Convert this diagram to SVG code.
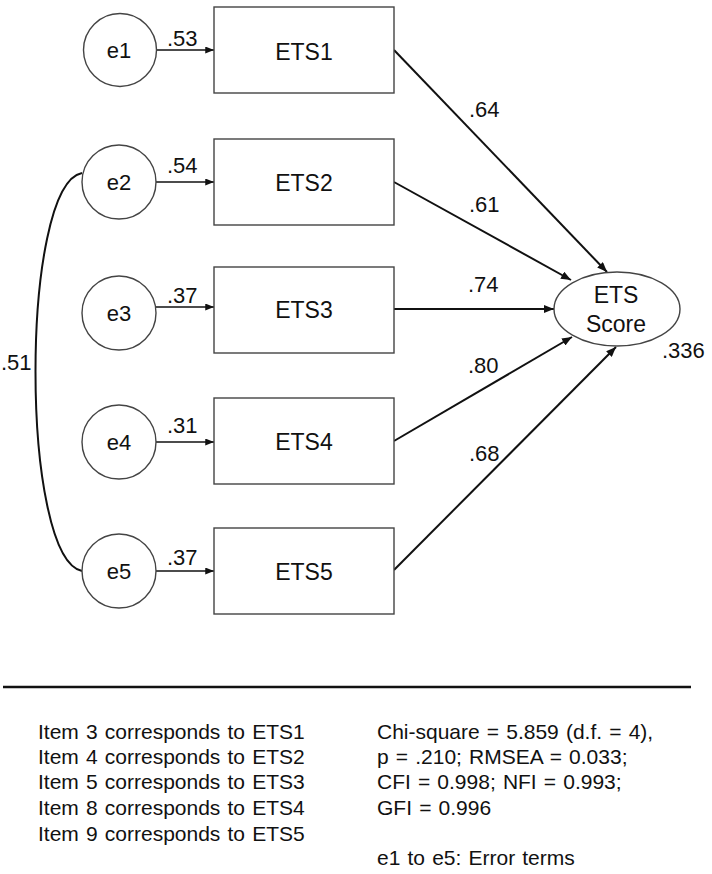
<svg xmlns="http://www.w3.org/2000/svg" width="712" height="874" viewBox="0 0 712 874">
<style>
text{font-family:"Liberation Sans",Arial,sans-serif;fill:#111;}
.node{fill:#fff;stroke:#444;stroke-width:1.4;}
.lbl{font-size:22px;}
.nt{font-size:23px;text-anchor:middle;}
.et{font-size:22px;text-anchor:middle;}
.small{stroke:#111;stroke-width:1.4;fill:none;}
.big{stroke:#111;stroke-width:2;fill:none;}
.note{font-size:21px;word-spacing:1.3px;}
</style>
<defs>
<marker id="ah" viewBox="0 0 10 8" refX="10" refY="4" markerWidth="10" markerHeight="8" markerUnits="userSpaceOnUse" orient="auto">
<path d="M0,0 L10,4 L0,8 Z" fill="#111"/>
</marker>
<marker id="ahs" viewBox="0 0 10 8" refX="10" refY="4" markerWidth="9" markerHeight="7" markerUnits="userSpaceOnUse" orient="auto">
<path d="M0,0 L10,4 L0,8 Z" fill="#111"/>
</marker>
</defs>
<g id="connectors">
<line class="small" x1="156" y1="50" x2="214" y2="50" marker-end="url(#ahs)"/>
<line class="small" x1="156" y1="182" x2="214" y2="182" marker-end="url(#ahs)"/>
<line class="small" x1="156" y1="307" x2="214" y2="307" marker-end="url(#ahs)"/>
<line class="small" x1="156" y1="442" x2="214" y2="442" marker-end="url(#ahs)"/>
<line class="small" x1="156" y1="571" x2="214" y2="571" marker-end="url(#ahs)"/>
<line class="big" x1="394" y1="50" x2="607" y2="272" marker-end="url(#ah)"/>
<line class="big" x1="394" y1="182" x2="571" y2="280" marker-end="url(#ah)"/>
<line class="big" x1="394" y1="309" x2="554" y2="309" marker-end="url(#ah)"/>
<line class="big" x1="394" y1="441" x2="572" y2="337" marker-end="url(#ah)"/>
<line class="big" x1="394" y1="570" x2="616" y2="347" marker-end="url(#ah)"/>
<path class="big" d="M82,173 C20,185 20,558 82,571"/>
<text class="lbl" x="167" y="46">.53</text>
<text class="lbl" x="167" y="173">.54</text>
<text class="lbl" x="167" y="303">.37</text>
<text class="lbl" x="167" y="433">.31</text>
<text class="lbl" x="167" y="565">.37</text>
<text class="lbl" x="469" y="117">.64</text>
<text class="lbl" x="469" y="212">.61</text>
<text class="lbl" x="468" y="292">.74</text>
<text class="lbl" x="468" y="373">.80</text>
<text class="lbl" x="469" y="461">.68</text>
<text class="lbl" x="1" y="370">.51</text>
</g>
<g id="e1"><circle class="node" cx="120" cy="50" r="36.5"/><text class="et" x="119" y="58">e1</text></g>
<g id="e2"><circle class="node" cx="119" cy="182" r="37"/><text class="et" x="119" y="190">e2</text></g>
<g id="e3"><circle class="node" cx="119" cy="313" r="37"/><text class="et" x="119" y="321">e3</text></g>
<g id="e4"><circle class="node" cx="119" cy="442" r="37"/><text class="et" x="119" y="450">e4</text></g>
<g id="e5"><circle class="node" cx="119" cy="571" r="37"/><text class="et" x="119" y="579">e5</text></g>
<g id="ETS1"><rect class="node" x="214" y="7" width="180" height="86"/><text class="nt" x="304" y="60">ETS1</text></g>
<g id="ETS2"><rect class="node" x="214" y="139" width="180" height="86"/><text class="nt" x="304" y="191">ETS2</text></g>
<g id="ETS3"><rect class="node" x="214" y="267" width="180" height="86"/><text class="nt" x="304" y="318">ETS3</text></g>
<g id="ETS4"><rect class="node" x="214" y="398" width="180" height="86"/><text class="nt" x="304" y="450">ETS4</text></g>
<g id="ETS5"><rect class="node" x="214" y="528" width="180" height="86"/><text class="nt" x="304" y="580">ETS5</text></g>
<g id="ETSScore"><ellipse class="node" cx="617" cy="309" rx="63" ry="37"/><text class="nt" x="616" y="303">ETS</text><text class="nt" x="616" y="332">Score</text><text class="lbl" x="662" y="358">.336</text></g>
<g id="notes">
<line x1="3" y1="687" x2="691" y2="687" stroke="#111" stroke-width="2.5"/>
<text class="note" x="38" y="739">Item 3 corresponds to ETS1</text>
<text class="note" x="38" y="764">Item 4 corresponds to ETS2</text>
<text class="note" x="38" y="789">Item 5 corresponds to ETS3</text>
<text class="note" x="38" y="815">Item 8 corresponds to ETS4</text>
<text class="note" x="38" y="841">Item 9 corresponds to ETS5</text>
<text class="note" x="377" y="739">Chi-square = 5.859 (d.f. = 4),</text>
<text class="note" x="377" y="764">p = .210; RMSEA = 0.033;</text>
<text class="note" x="377" y="789">CFI = 0.998; NFI = 0.993;</text>
<text class="note" x="377" y="815">GFI = 0.996</text>
<text class="note" x="377" y="865">e1 to e5: Error terms</text>
</g>
</svg>
